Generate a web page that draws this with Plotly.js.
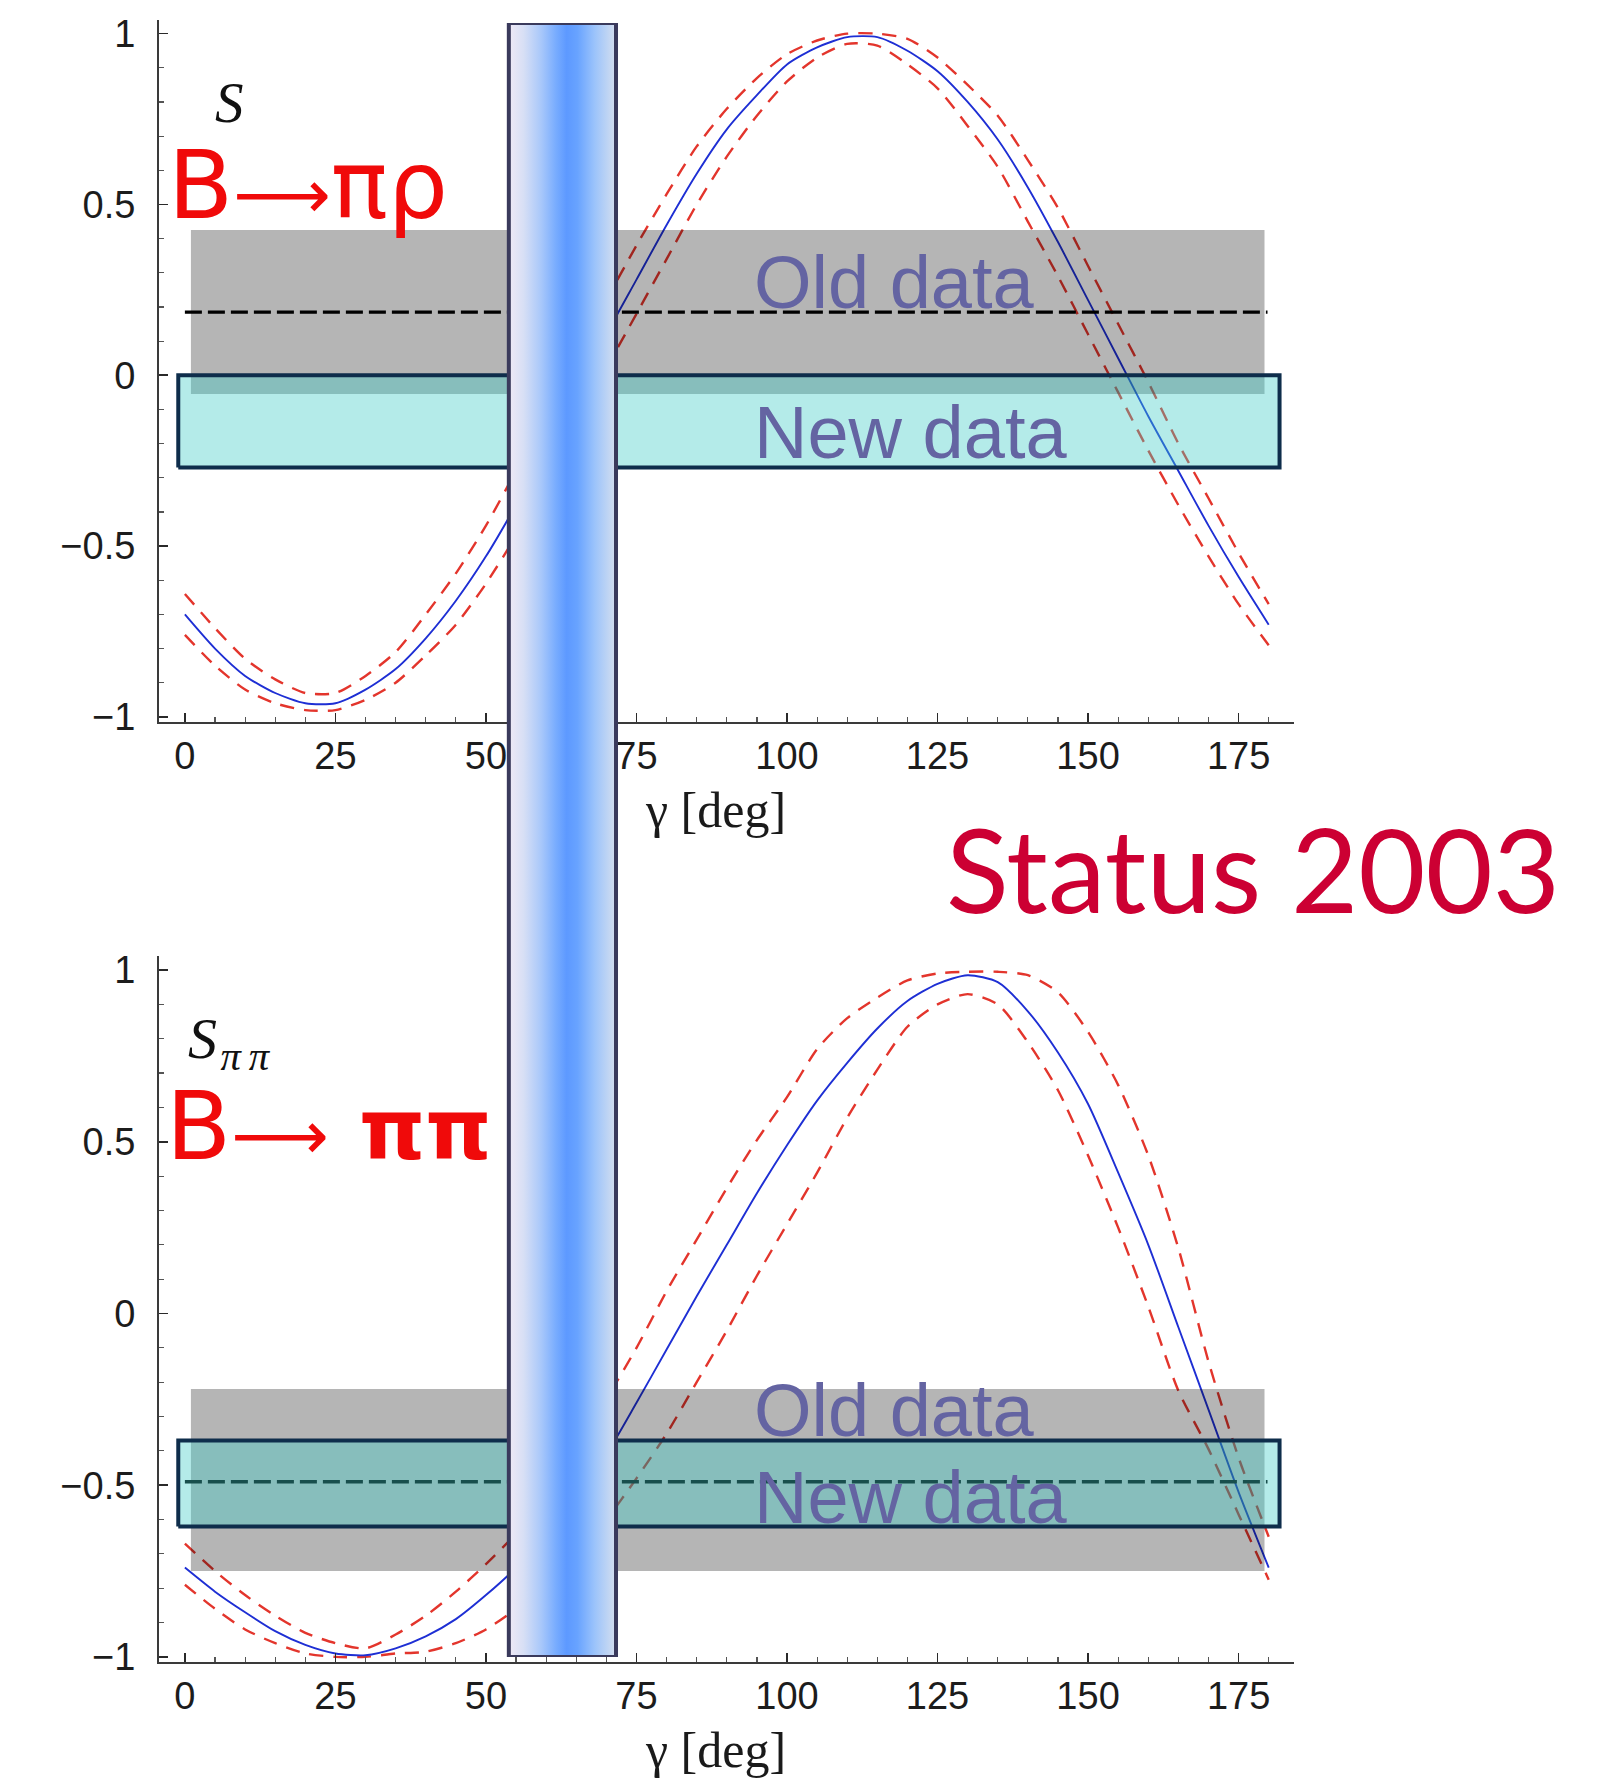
<!DOCTYPE html>
<html>
<head>
<meta charset="utf-8">
<script src="https://cdn.plot.ly/plotly-3.0.1.min.js"></script>
<style>
  html, body { margin: 0; padding: 0; background: #ffffff; }
  #chart { width: 1624px; height: 1781px; }
</style>
</head>
<body>
<div id="chart"></div>
<script>
// ---- data -------------------------------------------------------------
// CKM angle gamma (degrees) at which the predictions are tabulated
const gammaDeg = [0, 5, 10, 15, 20, 25, 30, 35, 40, 45, 50, 55, 60, 65, 70, 75, 80, 85, 90,
                  95, 100, 105, 110, 115, 120, 125, 130, 135, 140, 145, 150, 155, 160, 165, 170, 175, 180];

// B -> pi rho : mixing-induced asymmetry S (central prediction and error envelope)
const sRhoCentral = [-0.70, -0.80, -0.88, -0.93, -0.96, -0.96, -0.92, -0.86, -0.77, -0.66, -0.53, -0.38, -0.22, -0.05, 0.12, 0.28, 0.44, 0.59, 0.72,
                     0.82, 0.91, 0.96, 0.99, 0.99, 0.95, 0.89, 0.80, 0.69, 0.55, 0.39, 0.22, 0.05, -0.12, -0.28, -0.44, -0.59, -0.73];
const sRhoUpper   = [-0.64, -0.74, -0.83, -0.89, -0.93, -0.93, -0.88, -0.81, -0.70, -0.58, -0.44, -0.28, -0.12, 0.05, 0.22, 0.38, 0.53, 0.67, 0.78,
                     0.87, 0.94, 0.98, 1.00, 1.00, 0.985, 0.93, 0.85, 0.76, 0.63, 0.49, 0.32, 0.15, -0.02, -0.20, -0.36, -0.52, -0.67];
const sRhoLower   = [-0.76, -0.85, -0.92, -0.96, -0.98, -0.98, -0.95, -0.90, -0.82, -0.73, -0.61, -0.47, -0.32, -0.15, 0.02, 0.18, 0.34, 0.50, 0.64,
                     0.76, 0.86, 0.93, 0.97, 0.965, 0.91, 0.84, 0.73, 0.61, 0.45, 0.29, 0.12, -0.05, -0.22, -0.38, -0.53, -0.67, -0.79];

// B -> pi pi : S_pipi (central prediction and error envelope)
const sPiPiCentral = [-0.74, -0.81, -0.87, -0.925, -0.965, -0.99, -0.995, -0.975, -0.94, -0.89, -0.82, -0.74, -0.64, -0.53, -0.41, -0.26, -0.105, 0.05, 0.20,
                      0.35, 0.49, 0.62, 0.73, 0.83, 0.91, 0.96, 0.985, 0.965, 0.88, 0.76, 0.61, 0.41, 0.20, -0.04, -0.28, -0.52, -0.74];
const sPiPiUpper   = [-0.67, -0.75, -0.82, -0.88, -0.93, -0.96, -0.975, -0.935, -0.88, -0.81, -0.73, -0.64, -0.52, -0.40, -0.25, -0.10, 0.065, 0.215, 0.365,
                      0.505, 0.63, 0.77, 0.86, 0.92, 0.97, 0.99, 0.995, 0.995, 0.985, 0.935, 0.82, 0.665, 0.46, 0.19, -0.14, -0.42, -0.65];
const sPiPiLower   = [-0.79, -0.86, -0.92, -0.96, -0.99, -1.00, -1.00, -0.99, -0.985, -0.96, -0.92, -0.86, -0.79, -0.70, -0.60, -0.48, -0.35, -0.20, -0.05,
                      0.11, 0.26, 0.41, 0.57, 0.71, 0.835, 0.90, 0.93, 0.90, 0.79, 0.65, 0.46, 0.25, 0.02, -0.225, -0.395, -0.585, -0.775];

// measurements: old average (band and central value) and new average
const oldRhoRange   = [-0.055, 0.425];
const oldRhoCentral = 0.185;
const newRhoRange   = [-0.27, 0.0];
const oldPiPiRange   = [-0.75, -0.22];
const oldPiPiCentral = -0.49;
const newPiPiRange   = [-0.62, -0.37];

// gamma extent of the measurement bands
const oldBandGamma   = [1.0, 179.3];
const newBandGamma   = [-1.1, 181.8];
const centralGamma   = [0.0, 179.8];

// gamma range favoured by the global fit
const gammaFitRange = [53.8, 71.6];

// ticks
const xTickVals = [0, 25, 50, 75, 100, 125, 150, 175];
const xTickText = ['0', '25', '50', '75', '100', '125', '150', '175'];
const yTickVals = [-1, -0.5, 0, 0.5, 1];
const yTickText = ['\u22121', '\u22120.5', '0', '0.5', '1'];

// ---- layout geometry --------------------------------------------------
const W = 1624, H = 1781;
const py = v => 1 - v / H;
const xDomain = [159 / W, 1294 / W];
const topDomain = [py(721.7), py(20)];
const botDomain = [py(1661.7), py(956)];
const xRange = [-4.3, 184.2];
const yRangeTop = [-1.014, 1.04];
const yRangeBot = [-1.014, 1.041];
const barDomain = [py(1657), py(23)];

const tickFont = { family: 'Liberation Sans, Arial, sans-serif', size: 38, color: '#1c1c1c' };
const serif = 'Liberation Serif, Times New Roman, serif';
const sans = 'Liberation Sans, Arial, sans-serif';

function gammaAxis(extra) {
  return Object.assign({
    range: xRange, domain: xDomain, showgrid: false, zeroline: false,
    showline: true, linecolor: '#3a3a3a', linewidth: 2,
    ticks: 'inside', ticklen: 9, tickwidth: 1.6, tickcolor: '#2a2a2a',
    tickmode: 'array', tickvals: xTickVals, ticktext: xTickText,
    minor: { ticks: 'inside', tickmode: 'linear', tick0: 0, dtick: 5, ticklen: 5, tickwidth: 1.2, tickcolor: '#555', showgrid: false },
    tickfont: tickFont, ticklabelstandoff: 0, fixedrange: true
  }, extra);
}
function sAxis(extra) {
  return Object.assign({
    showgrid: false, zeroline: false,
    showline: true, linecolor: '#3a3a3a', linewidth: 2,
    ticks: 'inside', ticklen: 9, tickwidth: 1.6, tickcolor: '#2a2a2a',
    tickmode: 'array', tickvals: yTickVals, ticktext: yTickText,
    minor: { ticks: 'inside', tickmode: 'linear', tick0: 0, dtick: 0.1, ticklen: 5, tickwidth: 1.2, tickcolor: '#555', showgrid: false },
    tickfont: tickFont, ticklabelstandoff: 14, fixedrange: true
  }, extra);
}
function topFrame(overlay, anchor) {
  return gammaAxis({ overlaying: overlay, anchor: anchor, side: 'top', showticklabels: false,
                     linecolor: '#8c8c8c', linewidth: 1.5 });
}
function rightFrame(overlay, anchor, range) {
  return sAxis({ overlaying: overlay, anchor: anchor, side: 'right', range: range, showticklabels: false,
                 linecolor: '#d2d2d2', linewidth: 1, ticklen: 6,
                 minor: { ticks: 'inside', tickmode: 'linear', tick0: 0, dtick: 0.1, ticklen: 4, tickwidth: 1.5, tickcolor: '#444', showgrid: false } });
}

// ---- traces -----------------------------------------------------------
function rect(xs, ys) {
  return { x: [xs[0], xs[1], xs[1], xs[0], xs[0]], y: [ys[0], ys[0], ys[1], ys[1], ys[0]] };
}
function panel(xa, ya, central, upper, lower, oldRange, oldCentral, newRange) {
  const base = { type: 'scatter', xaxis: xa, yaxis: ya, hoverinfo: 'skip', showlegend: false };
  const redDash = { color: '#e3352c', width: 2.4, dash: '14px,10px', shape: 'spline', smoothing: 0.7 };
  const oldBox = rect(oldBandGamma, oldRange);
  const newBox = rect(newBandGamma, newRange);
  return [
    Object.assign({}, base, { mode: 'lines', x: gammaDeg, y: upper, line: redDash }),
    Object.assign({}, base, { mode: 'lines', x: gammaDeg, y: lower, line: redDash }),
    Object.assign({}, base, { mode: 'lines', x: gammaDeg, y: central,
                              line: { color: '#1e2fd4', width: 1.9, shape: 'spline', smoothing: 0.7 } }),
    Object.assign({}, base, { mode: 'lines', x: centralGamma, y: [oldCentral, oldCentral],
                              line: { color: '#000000', width: 3.4, dash: '17px,6px' } }),
    Object.assign({}, base, { mode: 'lines', x: oldBox.x, y: oldBox.y, fill: 'toself',
                              fillcolor: 'rgba(0,0,0,0.29)', line: { width: 0, color: 'rgba(0,0,0,0)' } }),
    Object.assign({}, base, { mode: 'lines', x: newBox.x, y: newBox.y, fill: 'toself',
                              fillcolor: 'rgba(61,203,198,0.39)', line: { width: 4, color: '#0e2d4b' } })
  ];
}

const fitBox = rect(gammaFitRange, [0, 1]);
const fitBar = {
  type: 'scatter', xaxis: 'x3', yaxis: 'y3', mode: 'lines', hoverinfo: 'skip', showlegend: false,
  x: fitBox.x, y: fitBox.y, fill: 'toself',
  fillgradient: {
    type: 'horizontal', start: gammaFitRange[0], stop: gammaFitRange[1],
    colorscale: [[0, '#efe9f6'], [0.14, '#d7dff5'], [0.3, '#a9c8fa'], [0.44, '#78acfe'],
                 [0.54, '#5d99ff'], [0.64, '#68a3ff'], [0.8, '#9bc3fb'], [1, '#d5dfef']]
  },
  line: { color: '#3a3a5c', width: 4 }
};

const data = []
  .concat(panel('x', 'y', sRhoCentral, sRhoUpper, sRhoLower, oldRhoRange, oldRhoCentral, newRhoRange))
  .concat(panel('x2', 'y2', sPiPiCentral, sPiPiUpper, sPiPiLower, oldPiPiRange, oldPiPiCentral, newPiPiRange))
  .concat([fitBar]);

// ---- annotations ------------------------------------------------------
function note(text, xref, yref, x, y, font, xanchor) {
  return { text: text, xref: xref, yref: yref, x: x, y: y, showarrow: false,
           xanchor: xanchor || 'left', yanchor: 'middle', font: font };
}
const labelRed = { family: 'DejaVu Sans, Liberation Sans, sans-serif', size: 95, color: '#f00a0a' };
const dataFont = { family: sans, size: 74, color: '#6464a2' };
const axisTitleFont = { family: serif, size: 50, color: '#1a1a1a' };
const arrow = '<span style="font-size:68px">\u27f6</span>';

const annotations = [
  note('<i>S</i>', 'x', 'y', 4.6, 0.798, { family: serif, size: 57, color: '#111' }),
  note('B' + arrow + '\u03c0\u03c1', 'x', 'y', -3.2, 0.556, labelRed),
  note('Old data', 'x', 'y', 94.2, 0.271, dataFont),
  note('New data', 'x', 'y', 94.2, -0.168, dataFont),
  note('\u03b3 [deg]', 'x', 'paper', 88.1, py(810), axisTitleFont, 'center'),

  note('<i>S</i><sub>\u200a<i>\u03c0\u2009\u03c0</i></sub>', 'x2', 'y2', 0.2, 0.79, { family: serif, size: 58, color: '#111' }),
  note('B' + arrow + ' <b><span style="font-size:84px">\u03c0\u03c0</span></b>', 'x2', 'y2', -3.4, 0.546, labelRed),
  note('Old data', 'x2', 'y2', 94.2, -0.283, dataFont),
  note('New data', 'x2', 'y2', 94.2, -0.535, dataFont),
  note('\u03b3 [deg]', 'x2', 'paper', 88.1, py(1750), axisTitleFont, 'center'),

  note('Status 2003', 'paper', 'paper', 944 / W, py(868), { family: 'Lato, Open Sans, sans-serif', size: 116, color: '#cc0033' })
];

const layout = {
  width: W, height: H,
  margin: { l: 0, r: 0, t: 0, b: 0, pad: 0 },
  paper_bgcolor: '#ffffff', plot_bgcolor: 'rgba(0,0,0,0)',
  showlegend: false,
  xaxis: gammaAxis({ anchor: 'y' }),
  yaxis: sAxis({ domain: topDomain, range: yRangeTop, anchor: 'x' }),
  xaxis2: gammaAxis({ anchor: 'y2' }),
  yaxis2: sAxis({ domain: botDomain, range: yRangeBot, anchor: 'x2' }),
  xaxis3: { domain: xDomain, range: xRange, visible: false, anchor: 'y3', fixedrange: true },
  yaxis3: { domain: barDomain, range: [0, 1], visible: false, anchor: 'x3', fixedrange: true },
  xaxis4: topFrame('x', 'y'),
  yaxis4: rightFrame('y', 'x', yRangeTop),
  xaxis5: topFrame('x2', 'y2'),
  yaxis5: rightFrame('y2', 'x2', yRangeBot),
  annotations: annotations
};

Plotly.newPlot('chart', data, layout, { staticPlot: true, displayModeBar: false });
</script>
</body>
</html>
